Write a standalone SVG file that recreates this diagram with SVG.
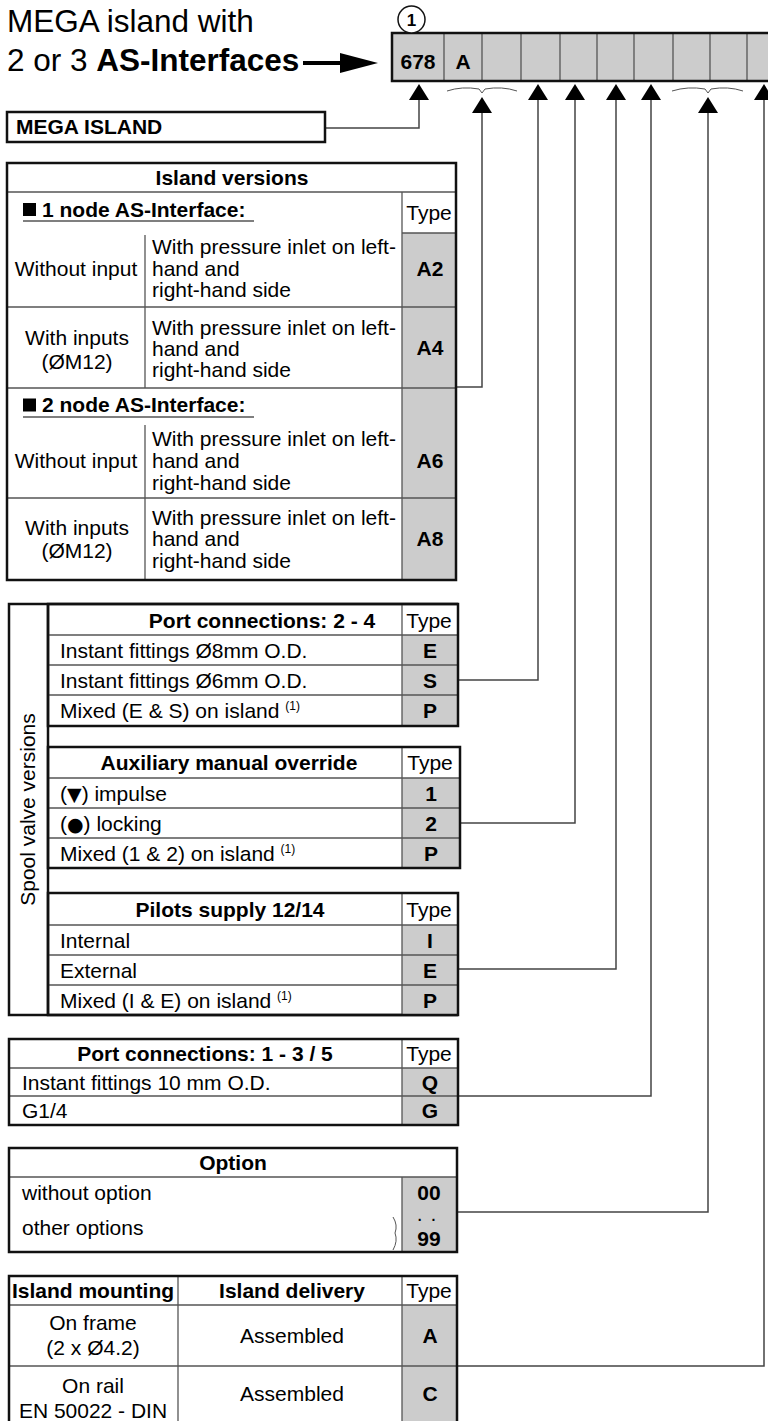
<svg xmlns="http://www.w3.org/2000/svg" width="768" height="1421" viewBox="0 0 768 1421">
<style>
text{font-family:"Liberation Sans",Arial,sans-serif;fill:#000}
.r{font-size:21px}
.b{font-size:21px;font-weight:bold}
.c{text-anchor:middle}
.sup{font-size:12px}
.sym{font-family:"DejaVu Sans",sans-serif;font-size:19px}
.title{font-size:31.5px}
.ob{fill:none;stroke:#111;stroke-width:2.5}
.in{fill:none;stroke:#555;stroke-width:1.3}
.g{fill:#cccccc;stroke:none}
.con{fill:none;stroke:#444;stroke-width:1.5}
.ah{fill:#000}
.br{fill:none;stroke:#555;stroke-width:1}
</style>
<rect width="768" height="1421" fill="#fff"/>

<g id="title">
<text class="title" x="7" y="32">MEGA island with</text>
<text class="title" x="7" y="71">2 or 3 <tspan font-weight="bold">AS-Interfaces</tspan></text>
<line x1="303" y1="63" x2="342" y2="63" stroke="#000" stroke-width="4"/>
<polygon points="340,53 378,63 340,73" fill="#000"/>
</g>

<g id="code-bar">
<rect class="g" x="392" y="33" width="400" height="48"/>
<g class="in">
<line x1="444" y1="33" x2="444" y2="81"/><line x1="482" y1="33" x2="482" y2="81"/>
<line x1="521" y1="33" x2="521" y2="81"/><line x1="560" y1="33" x2="560" y2="81"/>
<line x1="597" y1="33" x2="597" y2="81"/><line x1="634" y1="33" x2="634" y2="81"/>
<line x1="673" y1="33" x2="673" y2="81"/><line x1="710" y1="33" x2="710" y2="81"/>
<line x1="747" y1="33" x2="747" y2="81"/>
</g>
<rect class="ob" x="392" y="33" width="400" height="48"/>
<text class="b c" x="418" y="69">678</text>
<text class="b c" x="463" y="69">A</text>
<circle cx="411.5" cy="19.5" r="13.5" fill="#fff" stroke="#111" stroke-width="1.5"/>
<text class="c" x="411.5" y="25.5" font-size="17" font-weight="bold">1</text>
</g>

<g id="connectors">
<path class="con" d="M325,128 H419 V100"/>
<path class="con" d="M456,387 H482 V112"/>
<path class="con" d="M458,680 H538 V100"/>
<path class="con" d="M460,823 H575 V100"/>
<path class="con" d="M458,969 H616 V100"/>
<path class="con" d="M458,1096 H651 V100"/>
<path class="con" d="M457,1212 H708 V112"/>
<path class="con" d="M457,1366 H764 V100"/>
<path class="br" d="M447,91 Q462,86 479,89 L482,93 L485,89 Q502,86 517,91"/>
<path class="br" d="M672,91 Q688,86 705,89 L708,93 L711,89 Q728,86 743,91"/>
<polygon class="ah" points="419,84 409,100 429,100"/>
<polygon class="ah" points="538,84 528,100 548,100"/>
<polygon class="ah" points="575,84 565,100 585,100"/>
<polygon class="ah" points="616,84 606,100 626,100"/>
<polygon class="ah" points="651,84 641,100 661,100"/>
<polygon class="ah" points="764,84 754,100 774,100"/>
<polygon class="ah" points="482,97 472,113 492,113"/>
<polygon class="ah" points="708,97 698,113 718,113"/>
</g>

<g id="mega-island">
<rect class="ob" x="7" y="112" width="318" height="30" fill="#fff"/>
<text class="b" x="16" y="133.5">MEGA ISLAND</text>
</g>

<g id="island-versions">
<rect class="g" x="402" y="233" width="54" height="347"/>
<g class="in">
<line x1="7" y1="192" x2="456" y2="192"/>
<line x1="402" y1="192" x2="402" y2="580"/>
<line x1="402" y1="233" x2="456" y2="233"/>
<line x1="7" y1="307" x2="456" y2="307"/>
<line x1="7" y1="388" x2="456" y2="388"/>
<line x1="7" y1="498" x2="456" y2="498"/>
<line x1="145" y1="235" x2="145" y2="388"/>
<line x1="145" y1="425" x2="145" y2="580"/>
<line x1="23" y1="221" x2="254" y2="221"/>
<line x1="23" y1="417" x2="254" y2="417"/>
</g>
<rect class="ob" x="7" y="163" width="449" height="417"/>
<text class="b c" x="232" y="185">Island versions</text>
<rect x="23" y="203" width="13" height="13" fill="#000"/>
<text class="b" x="42" y="216.5">1 node AS-Interface:</text>
<text class="r c" x="429" y="220">Type</text>
<text class="r c" x="76" y="275.5">Without input</text>
<text class="r" x="152" y="254">With pressure inlet on left-</text>
<text class="r" x="152" y="275.5">hand and</text>
<text class="r" x="152" y="297">right-hand side</text>
<text class="b c" x="430" y="275.5">A2</text>
<text class="r c" x="77" y="345">With inputs</text>
<text class="r c" x="77" y="369">(ØM12)</text>
<text class="r" x="152" y="334.5">With pressure inlet on left-</text>
<text class="r" x="152" y="355.5">hand and</text>
<text class="r" x="152" y="376.5">right-hand side</text>
<text class="b c" x="430" y="355">A4</text>
<rect x="23" y="398.5" width="13" height="13" fill="#000"/>
<text class="b" x="42" y="412">2 node AS-Interface:</text>
<text class="r c" x="76" y="467.5">Without input</text>
<text class="r" x="152" y="445.5">With pressure inlet on left-</text>
<text class="r" x="152" y="467.5">hand and</text>
<text class="r" x="152" y="489.5">right-hand side</text>
<text class="b c" x="430" y="467.5">A6</text>
<text class="r c" x="77" y="535">With inputs</text>
<text class="r c" x="77" y="558">(ØM12)</text>
<text class="r" x="152" y="524.5">With pressure inlet on left-</text>
<text class="r" x="152" y="545.5">hand and</text>
<text class="r" x="152" y="567.5">right-hand side</text>
<text class="b c" x="430" y="545.5">A8</text>
</g>

<g id="spool-valve-versions">
<path class="ob" d="M458,604 H9 V1015 H458"/>
<line class="ob" x1="48" y1="604" x2="48" y2="1015"/>
<text class="r c" transform="translate(35,809.5) rotate(-90)">Spool valve versions</text>
</g>

<g id="port-2-4">
<rect class="g" x="402" y="635" width="56" height="91"/>
<g class="in">
<line x1="48" y1="635" x2="458" y2="635"/>
<line x1="48" y1="665" x2="458" y2="665"/>
<line x1="48" y1="695" x2="458" y2="695"/>
<line x1="402" y1="604" x2="402" y2="726"/>
</g>
<rect class="ob" x="48" y="604" width="410" height="122"/>
<text class="b c" x="262" y="627.5">Port connections: 2 - 4</text>
<text class="r c" x="429" y="627.5">Type</text>
<text class="r" x="60" y="657.5">Instant fittings Ø8mm O.D.</text>
<text class="b c" x="430" y="657.5">E</text>
<text class="r" x="60" y="687.5">Instant fittings Ø6mm O.D.</text>
<text class="b c" x="430" y="687.5">S</text>
<text class="r" x="60" y="718">Mixed (E &amp; S) on island <tspan class="sup" dy="-8">(1)</tspan></text>
<text class="b c" x="430" y="718">P</text>
</g>

<g id="manual-override">
<rect class="g" x="402" y="778" width="58" height="90"/>
<g class="in">
<line x1="48" y1="778" x2="460" y2="778"/>
<line x1="48" y1="808" x2="460" y2="808"/>
<line x1="48" y1="838" x2="460" y2="838"/>
<line x1="402" y1="747" x2="402" y2="868"/>
</g>
<rect class="ob" x="48" y="747" width="412" height="121"/>
<text class="b c" x="229" y="770">Auxiliary manual override</text>
<text class="r c" x="430" y="770">Type</text>
<text class="r" x="60" y="800.5">(<tspan class="sym">▼</tspan>) impulse</text>
<text class="b c" x="431" y="800.5">1</text>
<text class="r" x="60" y="830.5">(<tspan class="sym" font-size="24">●</tspan>) locking</text>
<text class="b c" x="431" y="830.5">2</text>
<text class="r" x="60" y="860.5">Mixed (1 &amp; 2) on island <tspan class="sup" dy="-8">(1)</tspan></text>
<text class="b c" x="431" y="860.5">P</text>
</g>

<g id="pilots-supply">
<rect class="g" x="402" y="925" width="56" height="90"/>
<g class="in">
<line x1="48" y1="925" x2="458" y2="925"/>
<line x1="48" y1="955" x2="458" y2="955"/>
<line x1="48" y1="985" x2="458" y2="985"/>
<line x1="402" y1="893" x2="402" y2="1015"/>
</g>
<rect class="ob" x="48" y="893" width="410" height="122"/>
<text class="b c" x="230" y="916.5">Pilots supply 12/14</text>
<text class="r c" x="429" y="916.5">Type</text>
<text class="r" x="60" y="947.5">Internal</text>
<text class="b c" x="430" y="947.5">I</text>
<text class="r" x="60" y="977.5">External</text>
<text class="b c" x="430" y="977.5">E</text>
<text class="r" x="60" y="1007.5">Mixed (I &amp; E) on island <tspan class="sup" dy="-8">(1)</tspan></text>
<text class="b c" x="430" y="1007.5">P</text>
</g>

<g id="port-1-3-5">
<rect class="g" x="402" y="1068" width="56" height="57"/>
<g class="in">
<line x1="9" y1="1068" x2="458" y2="1068"/>
<line x1="9" y1="1096" x2="458" y2="1096"/>
<line x1="402" y1="1039" x2="402" y2="1125"/>
</g>
<rect class="ob" x="9" y="1039" width="449" height="86"/>
<text class="b c" x="205" y="1061">Port connections: 1 - 3 / 5</text>
<text class="r c" x="429" y="1061">Type</text>
<text class="r" x="22" y="1089.5">Instant fittings 10 mm O.D.</text>
<text class="b c" x="430" y="1089.5">Q</text>
<text class="r" x="22" y="1118">G1/4</text>
<text class="b c" x="430" y="1118">G</text>
</g>

<g id="option">
<rect class="g" x="402" y="1177" width="55" height="75"/>
<g class="in">
<line x1="9" y1="1177" x2="457" y2="1177"/>
<line x1="402" y1="1177" x2="402" y2="1252"/>
</g>
<rect class="ob" x="9" y="1148" width="448" height="104"/>
<text class="b c" x="233" y="1170">Option</text>
<text class="r" x="22" y="1200">without option</text>
<text class="b c" x="429" y="1200">00</text>
<text class="r" x="22" y="1235">other options</text>
<text class="c" x="428" y="1221" font-size="14" font-weight="bold" letter-spacing="3">. .</text>
<text class="b c" x="429" y="1245.5">99</text>
<path class="br" d="M393,1217 Q398,1225 395,1233 Q398,1241 393,1250"/>
</g>

<g id="mounting">
<rect class="g" x="402" y="1305" width="55" height="120"/>
<g class="in">
<line x1="9" y1="1305" x2="457" y2="1305"/>
<line x1="9" y1="1366" x2="457" y2="1366"/>
<line x1="178" y1="1276" x2="178" y2="1425"/>
<line x1="402" y1="1276" x2="402" y2="1425"/>
</g>
<rect class="ob" x="9" y="1276" width="448" height="150"/>
<text class="b c" x="93" y="1298">Island mounting</text>
<text class="b c" x="292" y="1298">Island delivery</text>
<text class="r c" x="429" y="1298">Type</text>
<text class="r c" x="93" y="1329.5">On frame</text>
<text class="r c" x="93" y="1354.5">(2 x Ø4.2)</text>
<text class="r c" x="292" y="1342.5">Assembled</text>
<text class="b c" x="430" y="1342.5">A</text>
<text class="r c" x="93" y="1392.5">On rail</text>
<text class="r c" x="93" y="1417.5">EN 50022 - DIN</text>
<text class="r c" x="292" y="1400.5">Assembled</text>
<text class="b c" x="430" y="1400.5">C</text>
</g>
</svg>
